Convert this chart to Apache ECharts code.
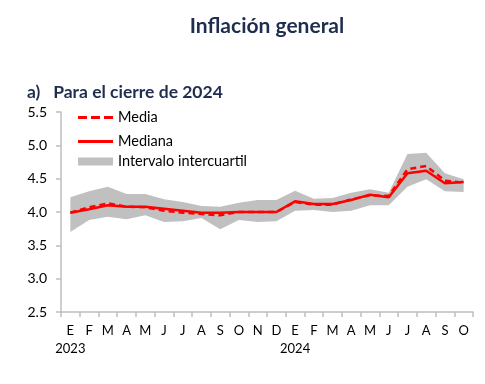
<!DOCTYPE html>
<html>
<head>
<meta charset="utf-8">
<script src="https://cdn.jsdelivr.net/npm/echarts@6/dist/echarts.min.js"></script>
<style>html,body{margin:0;padding:0;background:#fff;}#c{width:485px;height:384px;}</style>
</head>
<body>
<div id="c"></div>
<script>
var months = ['E','F','M','A','M','J','J','A','S','O','N','D','E','F','M','A','M','J','J','A','S','O'];
var years = {0:'2023', 12:'2024'};
var media   = [3.99,4.07,4.13,4.08,4.07,4.02,3.99,3.97,3.95,4.00,4.00,4.00,4.15,4.11,4.11,4.19,4.25,4.24,4.64,4.69,4.47,4.44];
var mediana = [3.99,4.04,4.10,4.08,4.08,4.05,4.02,3.99,3.99,4.00,4.00,4.00,4.16,4.12,4.12,4.18,4.26,4.22,4.58,4.62,4.43,4.45];
var bandLow  = [3.70,3.88,3.93,3.89,3.95,3.85,3.86,3.91,3.74,3.88,3.85,3.86,4.02,4.03,4.00,4.02,4.10,4.10,4.38,4.49,4.31,4.30];
var bandHigh = [4.22,4.31,4.38,4.27,4.27,4.19,4.15,4.09,4.08,4.14,4.18,4.18,4.32,4.20,4.21,4.29,4.34,4.29,4.87,4.89,4.58,4.49];
var yTicks = ['2.5','3.0','3.5','4.0','4.5','5.0','5.5'];

var bandDiff = bandHigh.map(function(v,i){return +(v - bandLow[i]).toFixed(3);});
var FONT = 'Lato';
var chart = echarts.init(document.getElementById('c'), null, {renderer:'canvas'});
chart.setOption({
  animation:false,
  textStyle:{fontFamily:FONT},
  title:[
    {text:'Inflación general', left:262, top:11, textAlign:'center',
     textStyle:{fontFamily:FONT, fontSize:21, fontWeight:'bold', color:'#1f2d4e'}},
    {text:'a)   Para el cierre de 2024', left:22, top:78,
     textStyle:{fontFamily:FONT, fontSize:17.5, fontWeight:'bold', color:'#1f2d4e'}}
  ],
  legend:[
    {data:[{name:'Media', icon:'path://M0,0h9v3h-9zM13,0h9v3h-9zM26,0h9v3h-9z', itemStyle:{color:'#ff0000'}}],
     left:73, top:105, itemWidth:35, itemHeight:3, itemGap:6, selectedMode:false,
     textStyle:{fontFamily:FONT, fontSize:14.5, color:'#000'}},
    {data:[{name:'Mediana', icon:'rect', itemStyle:{color:'#ff0000'}}],
     left:73, top:129, itemWidth:35, itemHeight:3, selectedMode:false,
     textStyle:{fontFamily:FONT, fontSize:14.5, color:'#000'}},
    {data:[{name:'Intervalo intercuartil', icon:'rect', itemStyle:{color:'#c0c0c0'}}],
     left:73, top:149, itemWidth:35, itemHeight:8, selectedMode:false,
     textStyle:{fontFamily:FONT, fontSize:14.5, color:'#000'}}
  ],
  grid:{left:61, right:12, top:112, bottom:72, containLabel:false},
  xAxis:{
    type:'category', data:months, boundaryGap:true,
    axisLine:{lineStyle:{color:'#bfbfbf', width:1.5}},
    axisTick:{show:true, alignWithLabel:false, interval:0, length:5, lineStyle:{color:'#bfbfbf', width:1.5}},
    axisLabel:{interval:0, margin:10, color:'#000', fontSize:13, fontFamily:FONT, lineHeight:18, verticalAlign:'top',
      formatter:function(v,i){ return years[i] ? v + '\n' + years[i] : v; }},
    splitLine:{show:false}
  },
  yAxis:{
    type:'value', min:2.5, max:5.5, interval:0.5,
    axisLine:{show:true, lineStyle:{color:'#bfbfbf', width:1.5}},
    axisTick:{show:true, length:5, lineStyle:{color:'#bfbfbf', width:1.5}},
    axisLabel:{color:'#000', fontSize:14, fontFamily:FONT, margin:14,
      formatter:function(v){ var s=v.toFixed(1); return yTicks.indexOf(s)>=0 ? s : ''; }},
    splitLine:{show:false}
  },
  series:[
    {name:'base', type:'line', data:bandLow, stack:'band', symbol:'none', silent:true,
     lineStyle:{opacity:0}, z:1},
    {name:'Intervalo intercuartil', type:'line', data:bandDiff, stack:'band', symbol:'none',
     lineStyle:{width:0, opacity:0}, itemStyle:{color:'#c0c0c0'}, areaStyle:{color:'#c0c0c0', opacity:1}, z:1},
    {name:'Mediana', type:'line', data:mediana, symbol:'none', itemStyle:{color:'#ff0000'},
     lineStyle:{color:'#ff0000', width:2.5}, z:3},
    {name:'Media', type:'line', data:media, symbol:'none', itemStyle:{color:'#ff0000'},
     lineStyle:{color:'#ff0000', width:2.5, type:[6,4]}, z:4}
  ]
});
</script>
</body>
</html>
